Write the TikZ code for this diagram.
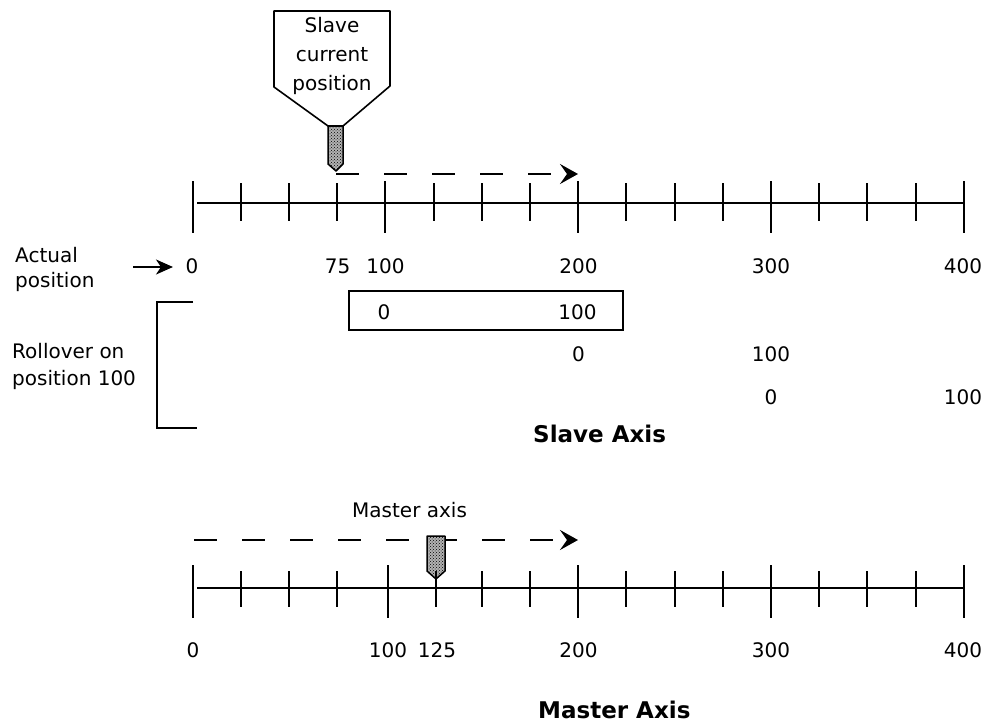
\documentclass[tikz,border=0pt]{standalone}
\usepackage{fontspec}
\setmainfont{DejaVu Sans}
\usetikzlibrary{arrows.meta,patterns}
\begin{document}
\begin{tikzpicture}[x=1pt,y=-1pt,
  lbl/.style={font=\fontsize{20}{24}\selectfont, inner sep=0pt, anchor=base},
  lblw/.style={font=\fontsize{20}{24}\selectfont, inner sep=0pt, anchor=base west},
  ttl/.style={font=\fontsize{23}{27}\selectfont\bfseries, inner sep=0pt, anchor=base west},
  axisline/.style={line width=2pt},
  tickmark/.style={line width=2pt},
  dashline/.style={line width=2pt, dash pattern=on 23pt off 25pt, -{Stealth[length=18pt,width=20pt,inset=7pt]}},
  solidarrow/.style={line width=2pt, -{Stealth[length=17pt,width=15pt,inset=5pt]}},
  marker/.style={preaction={fill=black!30}, pattern=crosshatch dots, draw, line width=1.5pt, line join=round},
  framebox/.style={draw, line width=2pt, inner sep=0pt}
]
\useasboundingbox (0,0) rectangle (987,725);

% ---------- Slave axis ----------
\draw[axisline] (197,203) -- (964,203);
\foreach \x in {193,385,578,771,964}{\draw[tickmark] (\x,181) -- (\x,233);}
\foreach \x in {241,289,337,434,482,530,626,675,723,819,867,916}{\draw[tickmark] (\x,183) -- (\x,221);}

\node[lbl] (s0)   at (192,273) {0};
\node[lbl] (s75)  at (337.6,273) {75};
\node[lbl] (s100) at (385.5,273) {100};
\node[lbl] (s200) at (578.5,273) {200};
\node[lbl] (s300) at (771,273) {300};
\node[lbl] (s400) at (963,273) {400};

% Slave pointer
\draw[line width=1.6pt, fill=white, line join=round] (274,11) -- (390,11) -- (390,86) -- (343,126) -- (328,126) -- (274,87) -- cycle;
\node[lbl] (pt1) at (332,33) {Slave};
\node[lbl] (pt2) at (332,62) {current};
\node[lbl] (pt3) at (332,90) {position};
\draw[marker] (328,126) -- (343,126) -- (343,164) -- (336,171) -- (328,164) -- cycle;
\coordinate (sdS) at (336,174);
\coordinate (sdE) at (578,174);
\draw[dashline] (sdS) -- (sdE);

% Actual position
\node[lblw] (act1) at (15,262) {Actual};
\node[lblw] (act2) at (15,287) {position};
\coordinate (aS) at (133,267);
\coordinate (aE) at (173,267);
\draw[solidarrow] (aS) -- (aE);

% Rollover
\node[lblw] (rol1) at (12,358) {Rollover on};
\node[lblw] (rol2) at (12,385) {position 100};
\draw[line width=2pt] (193,302) -- (157,302) -- (157,428) -- (197,428);

\node[framebox, minimum width=274pt, minimum height=39pt] (rbox) at (486,310.5) {};
\node[lbl] (r1a) at (384,319) {0};
\node[lbl] (r1b) at (577.5,319) {100};
\node[lbl] (r2a) at (578.5,361) {0};
\node[lbl] (r2b) at (771,361) {100};
\node[lbl] (r3a) at (771,404) {0};
\node[lbl] (r3b) at (963,404) {100};

\node[ttl] (slavettl) at (533,442) {Slave Axis};

% ---------- Master axis ----------
\node[lblw] (mlab) at (352,517) {Master axis};
\coordinate (mdS) at (194,540);
\coordinate (mdE) at (578,540);
\draw[dashline] (mdS) -- (mdE);
\draw[marker] (427,536) -- (445,536) -- (445,571) -- (436,579) -- (427,571) -- cycle;

\draw[axisline] (197,588) -- (964,588);
\foreach \x in {193,388,578,771,964}{\draw[tickmark] (\x,565) -- (\x,618);}
\foreach \x in {241,289,337,436,482,530,626,675,723,819,867,916}{\draw[tickmark] (\x,571) -- (\x,607);}

\node[lbl] (m0)   at (193,657) {0};
\node[lbl] (m100) at (388,657) {100};
\node[lbl] (m125) at (437,657) {125};
\node[lbl] (m200) at (578.5,657) {200};
\node[lbl] (m300) at (771,657) {300};
\node[lbl] (m400) at (963,657) {400};

\node[ttl] (masterttl) at (538,718) {Master Axis};
\end{tikzpicture}
\end{document}
